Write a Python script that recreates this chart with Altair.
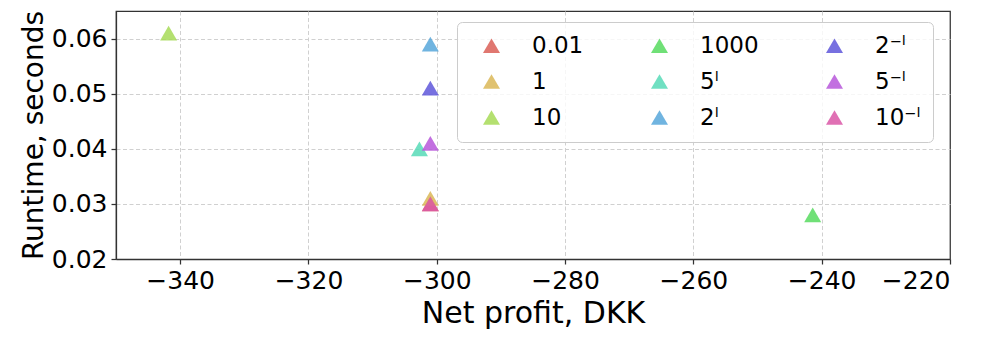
import altair as alt
import pandas as pd

labels = ["0.01", "1", "10", "1000", "5ˡ", "2ˡ", "2⁻ˡ", "5⁻ˡ", "10⁻ˡ"]
net_profit = [-301.0, -301.0, -341.8, -241.4, -302.7, -301.0, -301.0, -301.0, -301.0]
runtime = [0.0300, 0.0310, 0.0610, 0.0280, 0.0400, 0.0590, 0.0510, 0.0410, 0.0300]
colors = ["#db5f57", "#dbb757", "#a7db57", "#57db5f", "#57dbb7", "#57a7db", "#5f57db", "#b757db", "#db57a7"]

x_ticks = [-340, -320, -300, -280, -260, -240, -220]
y_ticks = [0.02, 0.03, 0.04, 0.05, 0.06]

df = pd.DataFrame({"label": labels, "x": net_profit, "y": runtime, "order": list(range(len(labels)))})

font = "DejaVu Sans"

chart = alt.Chart(df).mark_point(
    shape="triangle-up", filled=True, size=290, opacity=0.85, strokeWidth=1
).encode(
    x=alt.X("x:Q", title="Net profit, DKK",
            scale=alt.Scale(domain=[-350, -220], nice=False, zero=False),
            axis=alt.Axis(values=x_ticks, titleFontSize=30,
                          labelExpr="replace(datum.label, '-', '−')", titlePadding=5,
                          gridOpacity={"condition": {"test": "datum.value === -220", "value": 0}, "value": 1})),
    y=alt.Y("y:Q", title="Runtime, seconds",
            scale=alt.Scale(domain=[0.02, 0.065], nice=False, zero=False),
            axis=alt.Axis(values=y_ticks, format=".2f", titleFontSize=28, titlePadding=3)),
    color=alt.Color("label:N", scale=alt.Scale(domain=labels, range=colors),
                    legend=alt.Legend(title=" ", titleOrient="left", titleFontSize=1, titlePadding=11,
                                      orient="none", legendX=341, legendY=11,
                                      columns=3, symbolType="triangle-up", symbolSize=290,
                                      symbolOpacity=0.85, labelFontSize=23, labelFont=font,
                                      labelOffset=29, columnPadding=64, rowPadding=12,
                                      padding=12, strokeColor="#cccccc", cornerRadius=5,
                                      fillColor="rgba(255,255,255,0.8)", labelColor="black")),
    order=alt.Order("order:Q"),
).properties(
    width=834, height=248,
    autosize=alt.AutoSizeParams(type="none"),
    padding={"left": 108, "top": 3, "right": 30, "bottom": 80},
).configure_view(
    stroke="#333333", strokeWidth=1.25
).configure_axis(
    labelFont=font, titleFont=font, labelFontSize=25,
    labelColor="black", titleColor="black", titleFontWeight="normal",
    domainColor="#333333", domainWidth=1.25, tickColor="#333333", tickSize=5,
    tickWidth=1.25, labelPadding=4,
    grid=True, gridColor="#d0d0d0", gridDash=[4, 2.5], gridWidth=1,
)

chart.save("out.html", embed_options={"renderer": "svg", "actions": False})
